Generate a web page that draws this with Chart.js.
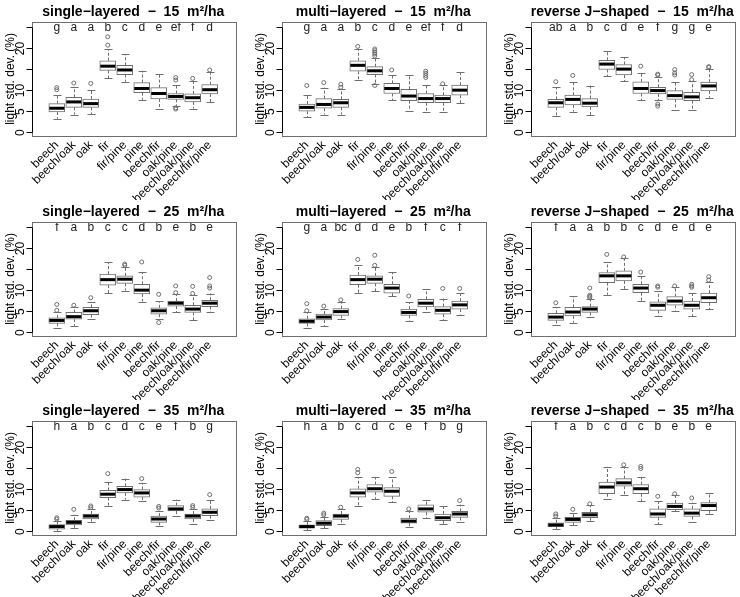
<!DOCTYPE html>
<html>
<head>
<meta charset="utf-8">
<script src="https://cdn.jsdelivr.net/npm/chart.js@4.4.1/dist/chart.umd.min.js"></script>
<style>
  body { margin: 0; background: #fff; }
  #figure { position: relative; width: 740px; height: 597px; overflow: hidden; background: #fff; }
  .panel { position: absolute; }
</style>
</head>
<body>
<div id="figure">
  <div class="panel" style="left:0px;top:0px"><canvas id="p0" width="240" height="200"></canvas></div>
  <div class="panel" style="left:249.5px;top:0px"><canvas id="p1" width="240" height="200"></canvas></div>
  <div class="panel" style="left:499px;top:0px"><canvas id="p2" width="240" height="200"></canvas></div>
  <div class="panel" style="left:0px;top:199.5px"><canvas id="p3" width="240" height="200"></canvas></div>
  <div class="panel" style="left:249.5px;top:199.5px"><canvas id="p4" width="240" height="200"></canvas></div>
  <div class="panel" style="left:499px;top:199.5px"><canvas id="p5" width="240" height="200"></canvas></div>
  <div class="panel" style="left:0px;top:399px"><canvas id="p6" width="240" height="200"></canvas></div>
  <div class="panel" style="left:249.5px;top:399px"><canvas id="p7" width="240" height="200"></canvas></div>
  <div class="panel" style="left:499px;top:399px"><canvas id="p8" width="240" height="200"></canvas></div>
</div>
<script>
'use strict';

// categories
var species = ['beech', 'beech/oak', 'oak', 'fir', 'fir/pine', 'pine',
  'beech/fir', 'oak/pine', 'beech/oak/pine', 'beech/fir/pine'];

var titles = [
  'single\u2212layered  \u2212  15  m\u00b2/ha', 'multi\u2212layered  \u2212  15  m\u00b2/ha', 'reverse J\u2212shaped  \u2212  15  m\u00b2/ha',
  'single\u2212layered  \u2212  25  m\u00b2/ha', 'multi\u2212layered  \u2212  25  m\u00b2/ha', 'reverse J\u2212shaped  \u2212  25  m\u00b2/ha',
  'single\u2212layered  \u2212  35  m\u00b2/ha', 'multi\u2212layered  \u2212  35  m\u00b2/ha', 'reverse J\u2212shaped  \u2212  35  m\u00b2/ha'
];

// y axis ticks (only some get a label, like R drops overlapping ones)
var yTicks = [0, 5, 10, 15, 20, 25];
var yTickLabels = ['0', '5', '10', '', '20', ''];

// box rows: lower whisker, Q1, median, Q3, upper whisker
var boxSingle15 = [
  [3.3, 4.9, 5.8, 6.9, 9.0], [4.3, 6.0, 7.3, 8.4, 10.9], [4.4, 6.0, 6.9, 8.0, 10.2],
  [12.9, 14.8, 15.8, 17.1, 19.9], [12.1, 13.8, 14.9, 16.0, 18.7], [7.8, 9.5, 10.5, 11.9, 14.7],
  [5.7, 8.0, 9.3, 10.7, 14.0], [6.3, 7.9, 8.6, 9.3, 11.4], [5.7, 7.3, 8.3, 9.2, 12.3],
  [7.2, 9.2, 10.2, 11.4, 14.4]
];
var outSingle15 = [[10.2, 10.7], [11.8], [11.7], [20.8, 22.8], [], [], [], [12.5, 13.1, 5.9, 5.6], [12.9], [14.9]];
var lettersSingle15 = ['g', 'a', 'a', 'b', 'c', 'd', 'e', 'ef', 'f', 'd'];

var boxMulti15 = [
  [3.6, 5.1, 6.0, 6.8, 8.9], [4.3, 5.8, 6.7, 8.1, 10.7], [4.3, 6.0, 7.1, 7.9, 10.3],
  [12.6, 14.6, 16.0, 17.1, 19.9], [11.5, 13.8, 14.7, 15.7, 17.7], [7.7, 9.3, 10.5, 11.7, 13.7],
  [5.2, 7.6, 8.7, 10.3, 13.7], [4.9, 7.1, 8.1, 9.3, 11.3], [4.9, 7.1, 8.1, 8.9, 11.3],
  [7.0, 8.9, 10.1, 11.3, 14.5]
];
var outMulti15 = [[11.2], [11.9], [10.8, 11.5], [20.5], [18.2, 18.7, 19.1, 19.5, 19.9, 11.2], [14.9], [], [13.1, 13.6, 14.1, 14.6], [11.6], []];
var lettersMulti15 = ['g', 'a', 'a', 'b', 'c', 'd', 'e', 'ef', 'f', 'd'];

var boxRevJ15 = [
  [4.0, 6.0, 7.1, 7.9, 10.8], [5.0, 6.6, 7.9, 8.9, 12.1], [4.2, 6.1, 7.0, 8.1, 11.2],
  [13.4, 15.0, 16.3, 17.2, 19.4], [12.2, 13.7, 15.1, 16.2, 17.9], [7.7, 9.3, 10.5, 12.1, 14.2],
  [7.7, 9.2, 10.0, 10.8, 13.3], [5.5, 7.9, 8.8, 10.0, 12.1], [5.4, 7.6, 8.5, 9.6, 12.2],
  [8.3, 9.9, 11.1, 12.0, 15.2]
];
var outRevJ15 = [[12.1], [13.6], [], [], [], [15.8], [13.7, 13.9, 6.8, 6.3], [13.7, 14.2, 15.0], [12.6, 13.8], [15.5, 15.7]];
var lettersRevJ15 = ['ab', 'a', 'b', 'c', 'd', 'e', 'f', 'g', 'g', 'e'];

var boxSingle25 = [
  [1.1, 2.2, 2.9, 3.5, 4.9], [1.6, 3.2, 3.8, 4.8, 6.2], [3.3, 4.3, 5.2, 6.0, 7.3],
  [9.4, 11.3, 12.6, 13.9, 16.7], [10.0, 11.7, 12.7, 13.5, 15.6], [7.4, 9.2, 10.1, 11.5, 14.3],
  [3.2, 4.4, 5.2, 5.9, 7.5], [4.9, 6.3, 7.0, 7.5, 9.1], [3.0, 4.8, 5.6, 6.5, 8.9],
  [4.9, 6.2, 7.0, 7.7, 9.3]
];
var outSingle25 = [[5.3, 6.7], [6.5], [8.3], [], [16.0, 16.3], [16.8], [9.1, 2.4], [9.5, 11.1], [9.3, 11.0], [10.6, 11.1, 13.1]];
var lettersSingle25 = ['f', 'a', 'b', 'c', 'c', 'd', 'b', 'e', 'b', 'e'];

var boxMulti25 = [
  [1.2, 2.2, 2.7, 3.3, 4.9], [1.6, 3.0, 3.7, 4.4, 5.7], [3.2, 4.1, 5.0, 5.7, 7.3],
  [9.5, 11.4, 12.6, 13.7, 16.0], [9.8, 11.7, 12.7, 13.5, 15.6], [8.7, 9.4, 10.6, 11.5, 14.4],
  [2.8, 4.1, 4.8, 5.6, 7.3], [4.9, 6.1, 7.0, 7.9, 10.3], [2.9, 4.4, 5.3, 6.2, 8.1],
  [4.3, 5.6, 6.6, 7.5, 9.4]
];
var outMulti25 = [[5.2, 6.9], [6.3], [7.8], [17.4], [16.0, 18.4], [], [8.7], [], [10.5], [10.5]];
var lettersMulti25 = ['g', 'a', 'bc', 'd', 'd', 'e', 'b', 'f', 'c', 'f'];

var boxRevJ25 = [
  [1.7, 2.9, 3.7, 4.6, 6.0], [2.4, 4.0, 4.9, 6.0, 8.6], [3.8, 4.8, 5.6, 6.2, 7.9],
  [9.0, 11.9, 13.5, 14.3, 16.8], [10.3, 12.3, 13.5, 14.7, 17.8], [7.5, 9.5, 10.6, 11.5, 13.5],
  [4.0, 5.3, 6.5, 7.3, 9.8], [5.2, 6.5, 7.5, 8.6, 10.8], [4.0, 5.6, 6.5, 7.5, 9.5],
  [5.6, 7.1, 8.3, 9.4, 12.1]
];
var outRevJ25 = [[7.1], [], [8.3, 8.6, 8.9, 10.6], [18.6], [18.0], [14.4], [10.8, 11.1], [11.1], [10.8, 11.1, 11.5], [12.5, 13.3]];
var lettersRevJ25 = ['f', 'a', 'a', 'b', 'b', 'c', 'd', 'e', 'd', 'e'];

var boxSingle35 = [
  [0.2, 0.6, 1.2, 1.7, 2.6], [0.9, 1.6, 2.2, 2.7, 4.0], [2.4, 3.0, 3.7, 4.2, 5.4],
  [6.2, 8.1, 8.9, 9.8, 11.8], [7.6, 9.2, 10.0, 10.8, 12.6], [7.2, 8.2, 9.2, 10.0, 11.6],
  [1.4, 2.2, 3.0, 3.7, 4.8], [3.7, 4.9, 5.4, 6.2, 7.6], [1.8, 3.0, 3.7, 4.2, 5.4],
  [2.8, 3.8, 4.6, 5.4, 7.6]
];
var outSingle35 = [[3.0, 3.3], [5.3], [5.7, 6.1], [13.8], [], [12.6], [5.6, 6.0], [], [5.8, 6.2], [8.8]];
var lettersSingle35 = ['h', 'a', 'b', 'c', 'd', 'c', 'e', 'f', 'b', 'g'];

var boxMulti35 = [
  [0.3, 0.8, 1.2, 1.6, 2.6], [0.8, 1.4, 2.0, 2.6, 3.4], [1.8, 2.9, 3.7, 4.2, 5.3],
  [6.2, 8.2, 9.2, 10.2, 13.0], [7.8, 9.4, 10.2, 11.2, 13.0], [7.0, 8.4, 9.6, 10.5, 13.0],
  [1.0, 2.0, 2.5, 3.2, 4.8], [3.2, 4.6, 5.4, 6.4, 7.6], [1.8, 2.6, 3.3, 4.2, 6.2],
  [2.4, 3.4, 4.2, 4.8, 6.4]
];
var outMulti35 = [[2.9, 3.2], [4.0, 4.4], [5.8], [14.0, 14.8], [], [14.3], [5.4], [], [], [7.4]];
var lettersMulti35 = ['h', 'a', 'b', 'c', 'd', 'c', 'e', 'f', 'b', 'g'];

var boxRevJ35 = [
  [0.6, 1.2, 1.6, 2.1, 3.2], [1.6, 2.2, 2.9, 3.4, 4.5], [2.5, 3.3, 4.0, 4.6, 6.3],
  [7.8, 9.0, 10.6, 11.8, 15.4], [8.8, 10.8, 11.6, 12.6, 15.4], [7.2, 9.0, 10.2, 11.2, 13.0],
  [1.8, 3.4, 4.2, 5.4, 7.2], [4.8, 5.2, 6.0, 6.8, 8.6], [2.4, 3.6, 4.4, 5.4, 6.9],
  [4.2, 5.0, 6.2, 6.9, 9.2]
];
var outRevJ35 = [[3.7, 4.2], [5.3], [6.6], [], [15.9], [15.0, 15.5], [8.4], [9.0], [8.0], []];
var lettersRevJ35 = ['f', 'a', 'b', 'c', 'd', 'c', 'b', 'e', 'b', 'e'];

var allBoxes = [boxSingle15, boxMulti15, boxRevJ15, boxSingle25, boxMulti25, boxRevJ25, boxSingle35, boxMulti35, boxRevJ35];
var allOutliers = [outSingle15, outMulti15, outRevJ15, outSingle25, outMulti25, outRevJ25, outSingle35, outMulti35, outRevJ35];
var allLetters = [lettersSingle15, lettersMulti15, lettersRevJ15, lettersSingle25, lettersMulti25, lettersRevJ25, lettersSingle35, lettersMulti35, lettersRevJ35];

var boxGrey = '#6e6e6e';
var fontFamily = '"Liberation Sans", Arial, Helvetica, sans-serif';
Chart.defaults.font.family = fontFamily;
Chart.defaults.color = '#000';

// whiskers, staples, medians, letters and the frame, all placed through the scales
var boxPlugin = {
  id: 'boxes',
  beforeDatasetsDraw: function(chart) {
    var rows = chart.options.plugins.boxes.rows;
    var xs = chart.scales.x, ys = chart.scales.y, ctx = chart.ctx;
    ctx.save();
    ctx.strokeStyle = boxGrey;
    ctx.lineWidth = 1;
    for (var i = 0; i < rows.length; i++) {
      var x = Math.round(xs.getPixelForValue(i + 1)) + 0.5;
      var r = rows[i];
      ctx.setLineDash([3, 2]);
      ctx.beginPath();
      ctx.moveTo(x, ys.getPixelForValue(r[3]));
      ctx.lineTo(x, ys.getPixelForValue(r[4]));
      ctx.moveTo(x, ys.getPixelForValue(r[1]));
      ctx.lineTo(x, ys.getPixelForValue(r[0]));
      ctx.stroke();
      ctx.setLineDash([]);
      ctx.beginPath();
      [r[0], r[4]].forEach(function(v) {
        var y = Math.round(ys.getPixelForValue(v)) + 0.5;
        ctx.moveTo(x - 4, y);
        ctx.lineTo(x + 4, y);
      });
      ctx.stroke();
    }
    ctx.restore();
  },
  afterDatasetsDraw: function(chart) {
    var opts = chart.options.plugins.boxes;
    var xs = chart.scales.x, ys = chart.scales.y, ctx = chart.ctx;
    var area = chart.chartArea;
    ctx.save();
    ctx.strokeStyle = '#000';
    ctx.lineWidth = 3;
    for (var i = 0; i < opts.rows.length; i++) {
      var x = xs.getPixelForValue(i + 1);
      var y = ys.getPixelForValue(opts.rows[i][2]);
      ctx.beginPath();
      ctx.moveTo(x - 7.5, y);
      ctx.lineTo(x + 7.5, y);
      ctx.stroke();
    }
    ctx.fillStyle = '#222';
    ctx.font = '12px ' + fontFamily;
    ctx.textAlign = 'center';
    ctx.textBaseline = 'middle';
    for (var j = 0; j < opts.letters.length; j++) {
      ctx.fillText(opts.letters[j], xs.getPixelForValue(j + 1), ys.getPixelForValue(25));
    }
    // plot frame
    ctx.lineWidth = 1;
    ctx.strokeStyle = boxGrey;
    ctx.strokeRect(Math.round(area.left) + 0.5, Math.round(area.top) + 0.5,
      Math.round(area.right - area.left), Math.round(area.bottom - area.top));
    // y axis line between first and last tick
    ctx.strokeStyle = '#000';
    ctx.beginPath();
    var ax = Math.round(area.left) + 0.5;
    ctx.moveTo(ax, ys.getPixelForValue(yTicks[0]));
    ctx.lineTo(ax, ys.getPixelForValue(yTicks[yTicks.length - 1]));
    ctx.stroke();
    ctx.restore();
  }
};

function makePanel(n) {
  var rows = allBoxes[n];
  var boxData = rows.map(function(r, i) { return { x: i + 1, y: [r[1], r[3]] }; });
  var outData = [];
  allOutliers[n].forEach(function(list, i) {
    list.forEach(function(v) { outData.push({ x: i + 1, y: v }); });
  });

  new Chart(document.getElementById('p' + n), {
    type: 'bar',
    data: {
      datasets: [
        {
          data: boxData,
          backgroundColor: '#fff',
          borderColor: boxGrey,
          borderWidth: 1,
          borderSkipped: false,
          barThickness: 16
        },
        {
          type: 'scatter',
          data: outData,
          pointRadius: 2,
          pointStyle: 'circle',
          backgroundColor: 'rgba(0,0,0,0)',
          borderColor: boxGrey,
          borderWidth: 1
        }
      ]
    },
    options: {
      responsive: false,
      animation: false,
      layout: { padding: { left: 0, right: 4.5, top: 0, bottom: 0 } },
      plugins: {
        legend: { display: false },
        tooltip: { enabled: false },
        title: {
          display: true,
          text: titles[n],
          fullSize: false,
          color: '#000',
          font: { size: 14, weight: 'bold' },
          padding: { top: 4, bottom: 1 }
        },
        boxes: { rows: rows, letters: allLetters[n] }
      },
      scales: {
        x: {
          type: 'linear',
          min: 0.11,
          max: 10.89,
          grid: { display: false, drawTicks: false },
          border: { display: false },
          afterBuildTicks: function(scale) {
            scale.ticks = species.map(function(s, i) { return { value: i + 1 }; });
          },
          afterFit: function(scale) { scale.height = 64; },
          ticks: {
            autoSkip: false,
            minRotation: 45,
            maxRotation: 45,
            padding: 2,
            color: '#000',
            font: { size: 12 },
            callback: function(value) { return species[value - 1]; }
          }
        },
        y: {
          min: -0.8,
          max: 26.35,
          border: { display: false },
          grid: { drawOnChartArea: false, drawTicks: true, tickLength: 5, color: '#000' },
          afterBuildTicks: function(scale) {
            scale.ticks = yTicks.map(function(v) { return { value: v }; });
          },
          afterFit: function(scale) { scale.width = 31.5; },
          title: {
            display: true,
            text: 'light std. dev. (%)',
            color: '#000',
            font: { size: 12 },
            padding: { top: 3, bottom: 0 }
          },
          ticks: {
            minRotation: 90,
            maxRotation: 90,
            crossAlign: 'center',
            padding: -1,
            color: '#000',
            font: { size: 12 },
            callback: function(value) { return yTickLabels[yTicks.indexOf(value)]; }
          }
        }
      }
    },
    plugins: [boxPlugin]
  });
}

for (var n = 0; n < 9; n++) {
  makePanel(n);
}
</script>
</body>
</html>
